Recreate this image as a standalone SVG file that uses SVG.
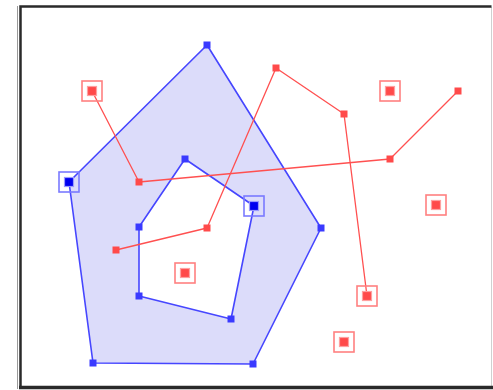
<svg xmlns="http://www.w3.org/2000/svg" width="493" height="390" viewBox="0 0 493 390">
<style>
.bl{fill:none;stroke:#4646ff;stroke-width:1.6;stroke-linejoin:round}
.rl{fill:none;stroke:#ff5050;stroke-width:1.3;stroke-linejoin:round}
.bv{fill:#3a3aff}
.rv{fill:#ff4a4a}
.bbox{fill:none;stroke:#7a7aff;stroke-width:1.6}
.rbox{fill:none;stroke:#ff8080;stroke-width:1.6}
.bcore{fill:#0000f0;stroke:#9a9aff;stroke-width:1.2}
.rcore{fill:#ff4a4a;stroke:#ffa0a0;stroke-width:1.2}
</style>
<rect x="0" y="0" width="493" height="390" fill="#ffffff"/>
<rect x="20.5" y="6.5" width="470.5" height="380" fill="#ffffff"/>
<path d="M491.5 7 V387" stroke="#d0d0d0" stroke-width="1" fill="none"/>
<path d="M20.5 388 V6.5 H491.5" stroke="#2a2a2a" stroke-width="2.5" fill="none"/>
<path d="M19 387.5 H493" stroke="#2a2a2a" stroke-width="3.5" fill="none"/>
<path d="M17.5 6 V389" stroke="#9a9a9a" stroke-width="1" fill="none"/>
<g id="region">
<path d="M207 45 L321 228 L253 364 L93 363 L69 182 Z M185 159 L254 206 L231 319 L139 296 L139 227 Z" fill="#dcdcfa" fill-rule="evenodd" stroke="none"/>
</g>
<g id="connectors">
<path class="bl" d="M207 45 L321 228 L253 364 L93 363 L69 182 Z"/>
<path class="bl" d="M185 159 L254 206 L231 319 L139 296 L139 227 Z"/>
<polyline class="rl" points="92,91 139,182 390,159 458,91"/>
<polyline class="rl" points="116,250 207,228 276,68 344,114 367,296"/>
</g>
<g id="blue-outer">
<rect class="bv" x="203.5" y="41.5" width="7" height="7"/>
<rect class="bv" x="317.5" y="224.5" width="7" height="7"/>
<rect class="bv" x="249.5" y="360.5" width="7" height="7"/>
<rect class="bv" x="89.5" y="359.5" width="7" height="7"/>
<rect class="bbox" x="59" y="172" width="20" height="20"/>
<rect class="bcore" x="64.5" y="177.5" width="9" height="9"/>
</g>
<g id="blue-inner">
<rect class="bv" x="181.5" y="155.5" width="7" height="7"/>
<rect class="bbox" x="244" y="196" width="20" height="20"/>
<rect class="bcore" x="249.5" y="201.5" width="9" height="9"/>
<rect class="bv" x="227.5" y="315.5" width="7" height="7"/>
<rect class="bv" x="135.5" y="292.5" width="7" height="7"/>
<rect class="bv" x="135.5" y="223.5" width="7" height="7"/>
</g>
<g id="red-path-1">
<rect class="rbox" x="82" y="81" width="20" height="20"/>
<rect class="rcore" x="87.5" y="86.5" width="9" height="9"/>
<rect class="rv" x="135.5" y="178.5" width="7" height="7"/>
<rect class="rv" x="386.5" y="155.5" width="7" height="7"/>
<rect class="rv" x="454.5" y="87.5" width="7" height="7"/>
</g>
<g id="red-path-2">
<rect class="rv" x="112.5" y="246.5" width="7" height="7"/>
<rect class="rv" x="203.5" y="224.5" width="7" height="7"/>
<rect class="rv" x="272.5" y="64.5" width="7" height="7"/>
<rect class="rv" x="340.5" y="110.5" width="7" height="7"/>
<rect class="rbox" x="357" y="286" width="20" height="20"/>
<rect class="rcore" x="362.5" y="291.5" width="9" height="9"/>
</g>
<g id="red-point-1">
<rect class="rbox" x="380" y="81" width="20" height="20"/>
<rect class="rcore" x="385.5" y="86.5" width="9" height="9"/>
</g>
<g id="red-point-2">
<rect class="rbox" x="426" y="195" width="20" height="20"/>
<rect class="rcore" x="431.5" y="200.5" width="9" height="9"/>
</g>
<g id="red-point-3">
<rect class="rbox" x="334" y="332" width="20" height="20"/>
<rect class="rcore" x="339.5" y="337.5" width="9" height="9"/>
</g>
<g id="red-point-4">
<rect class="rbox" x="175" y="263" width="20" height="20"/>
<rect class="rcore" x="180.5" y="268.5" width="9" height="9"/>
</g>
</svg>
